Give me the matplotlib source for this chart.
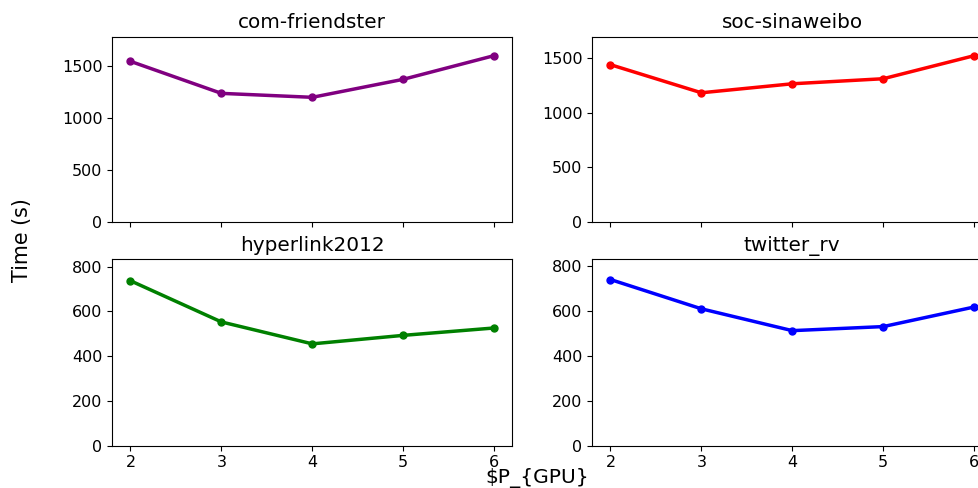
import matplotlib
matplotlib.use('Agg')
import matplotlib.pyplot as plt

## number of GPUs on the x axis
gpus = [2, 3, 4, 5, 6]

## run times (s) for each graph
friendster = [1548, 1240, 1202, 1375, 1603]
sinaweibo = [1436, 1180, 1262, 1308, 1518]
hyperlink = [737, 553, 455, 493, 526]
twitter = [738, 608, 511, 529, 616]

names = ['com-friendster', 'soc-sinaweibo', 'hyperlink2012', 'twitter_rv']
series = [friendster, sinaweibo, hyperlink, twitter]
colors = ['purple', 'red', 'green', 'blue']
y_tops = [1785, 1691, 833, 828]

fig = plt.figure(figsize=(9.79, 4.88), dpi=100)

## axes placed by hand, the right column runs off the edge like the original
left_x = [0.1147, 0.605, 0.1147, 0.605]
bottom_y = [0.5445, 0.5445, 0.0867, 0.0867]
heights = [0.3803, 0.3803, 0.382, 0.382]

axes = []
for i in range(4):
    ax = fig.add_axes([left_x[i], bottom_y[i], 0.4086, heights[i]])
    ax.plot(gpus, series[i], color=colors[i], linewidth=2.5, marker='o', markersize=5)
    ax.set_title(names[i], fontsize=14.4)
    ax.set_xlim(1.8, 6.2)
    ax.set_ylim(0, y_tops[i])
    ax.set_xticks(gpus)
    ax.tick_params(labelsize=11.5)
    if i < 2:
        ax.tick_params(labelbottom=False)
    axes.append(ax)

axes[2].set_yticks([0, 200, 400, 600, 800])
axes[3].set_yticks([0, 200, 400, 600, 800])

fig.text(0.022, 0.508, 'Time (s)', rotation=90, fontsize=14.9, ha='center', va='center')
fig.text(0.549, 0.0195, '$P_{GPU}', fontsize=14.6, ha='center', va='center')

fig.savefig('out.png', dpi=100)
